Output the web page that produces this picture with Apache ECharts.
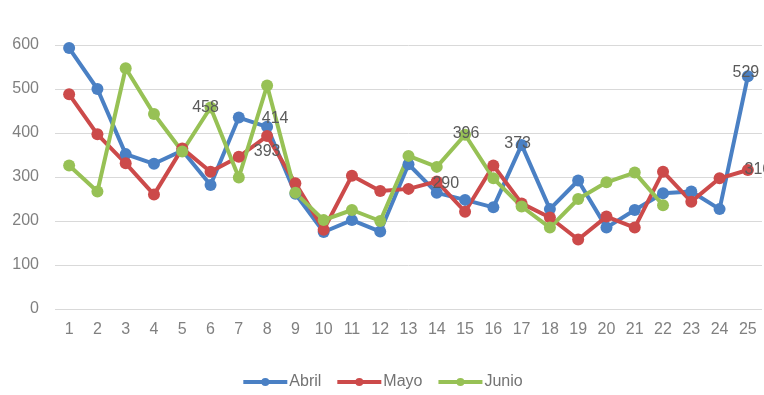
<!DOCTYPE html>
<html>
<head>
<meta charset="utf-8">
<script src="https://cdn.jsdelivr.net/npm/echarts@6/dist/echarts.min.js"></script>
<style>
  html, body { margin: 0; padding: 0; background: #ffffff; }
  #chart { width: 764px; height: 395px; }
</style>
</head>
<body>
<div id="chart"></div>
<script>
// Days of the month on the category axis
const days = ['1','2','3','4','5','6','7','8','9','10','11','12','13','14','15','16','17','18','19','20','21','22','23','24','25'];

// Daily values per month
const abril = [593, 500, 352, 330, 360, 282, 435, 414, 262, 175, 202, 176, 329, 264, 248, 231, 373, 227, 292, 185, 225, 263, 267, 227, 529];
const mayo  = [488, 397, 331, 260, 365, 312, 346, 393, 286, 180, 303, 268, 273, 290, 221, 326, 240, 208, 158, 210, 185, 312, 244, 297, 316];
const junio = [326, 267, 547, 443, 358, 458, 299, 508, 264, 202, 225, 200, 348, 323, 396, 297, 233, 185, 250, 288, 310, 236, null, null, null];

// Points that carry a value label (index -> label offset)
const abrilLabels = { 7: [8, -8], 16: [-4, -1], 24: [-2, -4] };
const mayoLabels  = { 7: [0, 16], 13: [9, 2], 24: [10, 0] };
const junioLabels = { 5: [-5, 0], 14: [1, -1] };

const FONT = 'Liberation Sans';
const AXIS_TEXT = '#808080';
const LABEL_TEXT = '#5a5a5a';

function withLabels(values, labels) {
  return values.map((v, i) => {
    if (labels[i] === undefined || v === null) return v;
    return {
      value: v,
      label: {
        show: true,
        position: 'inside',
        offset: labels[i],
        formatter: '{c}',
        color: LABEL_TEXT,
        fontFamily: FONT,
        fontSize: 16
      }
    };
  });
}

function lineSeries(name, color, values, labels) {
  return {
    name: name,
    type: 'line',
    data: withLabels(values, labels),
    symbol: 'circle',
    symbolSize: 12,
    lineStyle: { width: 4, color: color },
    itemStyle: { color: color },
    label: { show: false },
    emphasis: { disabled: true },
    connectNulls: false,
    animation: false
  };
}

const chart = echarts.init(document.getElementById('chart'), null, { renderer: 'canvas' });
chart.setOption({
  backgroundColor: '#ffffff',
  animation: false,
  grid: { left: 55, right: 2, top: 45, bottom: 86, containLabel: false },
  legend: {
    bottom: 0,
    left: 'center',
    itemWidth: 44,
    itemHeight: 10,
    itemGap: 14,
    lineStyle: { width: 4 },
    textStyle: { color: '#737373', fontFamily: FONT, fontSize: 16, padding: [0, 0, 0, -3] },
    data: ['Abril', 'Mayo', 'Junio']
  },
  xAxis: {
    type: 'category',
    data: days,
    boundaryGap: true,
    axisLine: { show: false },
    axisTick: { show: false },
    axisLabel: { color: AXIS_TEXT, fontFamily: FONT, fontSize: 16, margin: 13, interval: 0 }
  },
  yAxis: {
    type: 'value',
    min: 0,
    max: 600,
    interval: 100,
    axisLine: { show: false },
    axisTick: { show: false },
    axisLabel: { color: AXIS_TEXT, fontFamily: FONT, fontSize: 16, margin: 16 },
    splitLine: { lineStyle: { color: '#d9d9d9', width: 1 } }
  },
  series: [
    lineSeries('Abril', '#4a80c4', abril, abrilLabels),
    lineSeries('Mayo', '#cc4a4a', mayo, mayoLabels),
    lineSeries('Junio', '#97c155', junio, junioLabels)
  ]
});
</script>
</body>
</html>
